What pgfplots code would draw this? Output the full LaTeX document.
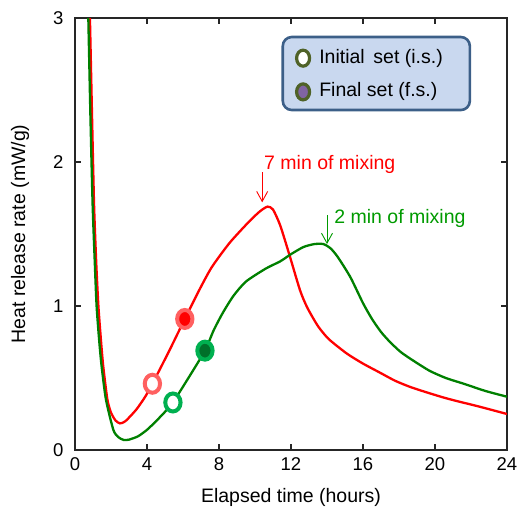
\documentclass[border=0pt]{standalone}
\usepackage{fontspec}
\setmainfont{Liberation Sans}
\usepackage{pgfplots}
\pgfplotsset{compat=1.18}
\usetikzlibrary{arrows.meta,shapes.geometric}
\definecolor{cred}{HTML}{FF0000}
\definecolor{cgreen}{HTML}{008000}
\definecolor{tgreen}{HTML}{009A00}
\definecolor{ringred}{HTML}{FF6060}
\definecolor{ringgreen}{HTML}{00B050}
\definecolor{darkgreen}{HTML}{00702A}
\definecolor{legborder}{HTML}{3C5F88}
\definecolor{legfill}{HTML}{C9D8EF}
\definecolor{olivec}{HTML}{4F6228}
\definecolor{purplec}{HTML}{8064A2}
\begin{document}
\begin{tikzpicture}
\path[use as bounding box] (-75pt,-65pt) rectangle (445pt,450pt);
\begin{axis}[
  scale only axis, width=432pt, height=432pt,
  xmin=0, xmax=24, ymin=0, ymax=3,
  xtick={0,4,8,12,16,20,24}, ytick={0,1,2,3},
  tick align=inside, major tick length=6pt,
  axis line style={line width=1.3pt, black!85},
  tick style={line width=1.1pt, black!85},
  /pgf/number format/assume math mode=true,
  tick label style={font=\fontsize{18.5}{22}\selectfont},
  xticklabel style={yshift=-4pt},
  yticklabel style={xshift=-8pt},
  xlabel={Elapsed time (hours)},
  ylabel={Heat release rate (mW/g)},
  label style={font=\fontsize{19.5}{23}\selectfont},
  xlabel style={at={(axis description cs:0.5,-0.109)},anchor=center},
  ylabel style={at={(axis description cs:-0.127,0.5)},anchor=center},
  clip=true,
]
% red: 7 min of mixing
\addplot[cred, line width=2.3pt, smooth, tension=0.4] coordinates {
(0.80,3.2) (0.83,3.0) (0.95,2.3) (1.06,1.7) (1.18,1.3) (1.30,1.0) (1.45,0.75)
(1.57,0.58) (1.80,0.35) (2.0,0.26) (2.25,0.205) (2.5,0.185) (2.8,0.20)
(3.4,0.28) (3.9,0.37) (4.3,0.46) (5.2,0.68) (6.1,0.91) (6.9,1.11) (7.6,1.27)
(8.6,1.44) (9.7,1.59) (10.3,1.66) (10.7,1.69) (11.0,1.67) (11.4,1.56)
(11.9,1.36) (12.5,1.11) (12.9,0.99) (13.5,0.86) (14.1,0.77) (15.1,0.67)
(16.0,0.60) (16.9,0.54) (17.8,0.48) (18.8,0.43) (20.6,0.36) (22.5,0.30) (24,0.25)
};
% green: 2 min of mixing
\addplot[cgreen, line width=2.3pt, smooth, tension=0.4] coordinates {
(0.71,3.2) (0.74,3.0) (0.86,2.3) (0.98,1.7) (1.10,1.3) (1.20,1.0) (1.35,0.75)
(1.48,0.58) (1.72,0.35) (2.13,0.14) (2.4,0.09) (2.7,0.07) (3.0,0.072)
(3.5,0.095) (4.0,0.14) (4.5,0.20) (5.0,0.265) (5.44,0.33) (6.3,0.50) (7.22,0.69)
(7.7,0.83) (8.2,0.95) (8.8,1.07) (9.5,1.17) (10.6,1.26) (11.4,1.31) (12.0,1.36)
(12.7,1.41) (13.3,1.43) (13.8,1.43) (14.2,1.40) (14.6,1.34) (15.3,1.20)
(16.0,1.02) (16.5,0.91) (17.0,0.82) (17.5,0.75) (18.1,0.68) (18.8,0.62)
(19.7,0.55) (20.6,0.50) (21.6,0.46) (22.8,0.41) (24,0.37)
};
% markers
\addplot[only marks, mark=*, mark size=9pt, mark options={draw=ringred, fill=white, line width=4pt, xscale=0.85}] coordinates {(4.3,0.46)};
\addplot[only marks, mark=*, mark size=9pt, mark options={draw=ringred, fill=cred, line width=4pt, xscale=0.85}] coordinates {(6.1,0.91)};
\addplot[only marks, mark=*, mark size=9pt, mark options={draw=ringgreen, fill=white, line width=4pt, xscale=0.85}] coordinates {(5.44,0.33)};
\addplot[only marks, mark=*, mark size=9pt, mark options={draw=ringgreen, fill=darkgreen, line width=4pt, xscale=0.85}] coordinates {(7.22,0.69)};
% annotations
\draw[cred, line width=0.9pt, -{Straight Barb[length=10pt,width=11pt]}] (axis cs:10.4,1.93) -- (axis cs:10.4,1.72);
\node[cred, anchor=west, inner sep=0pt, font=\fontsize{19.5}{23}\selectfont] at (axis cs:10.5,1.98) {7 min of mixing};
\draw[tgreen, line width=0.9pt, -{Straight Barb[length=10pt,width=11pt]}] (axis cs:14.0,1.63) -- (axis cs:14.0,1.43);
\node[tgreen, anchor=west, inner sep=0pt, font=\fontsize{19.5}{23}\selectfont] at (axis cs:14.4,1.61) {2 min of mixing};
% legend (drawn manually)
\draw[draw=legborder, fill=legfill, line width=2.6pt, rounded corners=9pt] (rel axis cs:0.481,0.787) rectangle (rel axis cs:0.914,0.956);
\node[ellipse, draw=olivec, fill=white, line width=3.2pt, minimum width=13pt, minimum height=16pt, inner sep=0pt] at (rel axis cs:0.528,0.907) {};
\node[ellipse, draw=olivec, fill=purplec, line width=3.2pt, minimum width=13pt, minimum height=16pt, inner sep=0pt] at (rel axis cs:0.528,0.829) {};
\node[anchor=west, inner sep=0pt, font=\fontsize{19.5}{23}\selectfont] at (rel axis cs:0.565,0.907) {Initial\, set (i.s.)};
\node[anchor=west, inner sep=0pt, font=\fontsize{19.5}{23}\selectfont] at (rel axis cs:0.565,0.829) {Final set (f.s.)};
\end{axis}
\end{tikzpicture}
\end{document}
